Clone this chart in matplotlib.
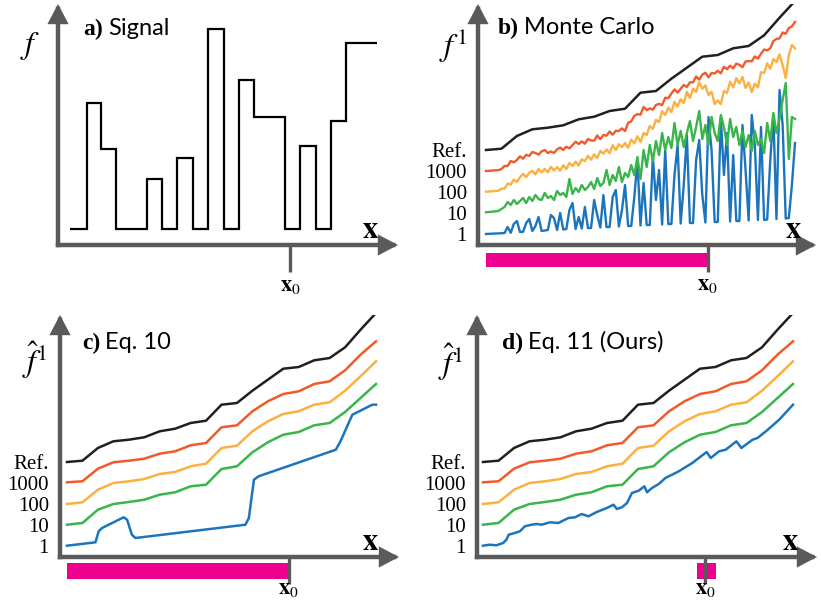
import numpy as np
import matplotlib
matplotlib.use('Agg')
import matplotlib.pyplot as plt
from matplotlib.patches import Rectangle

plt.rcParams['mathtext.fontset'] = 'stix'

# ---------------- data ----------------
# a) step signal
sig_edges = [0, 1.1, 2, 3, 5, 6, 7, 8, 9, 10, 11, 12, 14, 15, 16, 17, 18, 20]
sig_levels = [16, 142, 96, 16, 66, 16, 87, 16, 216, 16, 165, 128, 16, 99, 16, 124, 202]

# reference antiderivative (same in b, c, d)
ref_x = list(range(21))
ref_v = [95, 96.3, 109, 115.7, 117.3, 119.7, 125.7, 128.3, 134, 136.3, 152.3,
         154, 166.3, 177.3, 188.3, 190, 196.7, 199, 209.7, 227.3, 244]

# b) Monte Carlo estimates, sampled every 0.2 along x
mc_x = np.linspace(0, 20, 101)
mc_1000 = [74, 74.2, 74.4, 74.7, 74.9, 76, 79, 79, 84, 82.6, 85, 88.7, 86.3, 90.2, 89.1,
           93, 92, 90.4, 93.6, 95, 92, 93.5, 92, 95.7, 97.4, 95, 98.3, 96.6, 100, 103.2,
           101, 103.7, 101.3, 106, 104.5, 104.3, 109.5, 105.8, 110, 109.3, 113.5, 110.3,
           114.1, 114, 116.6, 114, 122.2, 123.6, 129.2, 130.8, 130.4, 138, 134.8, 136.6,
           135.3, 140, 141.2, 139.8, 147.3, 146.9, 151.4, 155.6, 152.4, 156.2, 160, 158,
           162.7, 162.6, 168.5, 165.4, 170.3, 172.3, 167.7, 172, 171.5, 174.2, 171.7,
           178.2, 175.8, 179.3, 176.7, 181.3, 180.2, 177.8, 183.5, 183.9, 183.7, 188.6,
           186.4, 191.3, 195.5, 194.6, 196.7, 203.9, 206, 206.7, 212.5, 211.2, 216.9,
           218.6, 223]
mc_100 = [53.3, 53.5, 53.7, 54.0, 54.2, 56.3, 56.4, 61.5, 60.5, 65.5, 63.1, 67.7, 71.2,
          67.8, 72.3, 74.1, 70.6, 76.1, 72.6, 76.1, 72.6, 78.1, 74.5, 77.9, 74.3, 79.7,
          75.9, 82, 79.1, 83.3, 79.5, 85.7, 83.9, 89.2, 85.4, 90.6, 86.9, 94.1, 91.3, 95.6,
          91.8, 99.9, 94.9, 100.9, 97.9, 102, 97.2, 105.4, 101.6, 108.8, 103, 112, 110,
          119, 116.2, 125.1, 123, 133.7, 130.1, 137.4, 132.8, 143.2, 138.5, 145.8, 142,
          153.1, 147.1, 156.4, 153.1, 162.8, 156.3, 159.6, 149.9, 153.3, 141, 144.7, 141,
          154, 152, 163.2, 157.5, 166.8, 161.6, 168, 157.1, 162.6, 153, 161.3, 157.6,
          172.8, 172, 181.7, 176.3, 186, 182.9, 190.7, 179.6, 167, 190, 200, 196.7]
mc_10 = [32.7, 33, 33.3, 33.7, 34, 36, 38, 43, 40, 45, 41, 44, 47, 42, 48, 44, 50, 46, 45,
         52, 47, 49, 45, 54, 50, 52, 48, 66, 51, 57, 53, 60, 55, 58, 63, 56, 67, 59, 62,
         75, 60, 70, 64, 78, 63, 72, 68, 80, 70, 88, 66, 95, 78, 100, 84, 104, 90, 112, 95,
         108, 97, 122, 100, 114, 98, 112, 124, 104, 118, 134, 106, 120, 100, 128, 112, 104,
         130, 118, 100, 126, 108, 118, 100, 114, 98, 110, 94, 114, 100, 106, 92, 122, 104,
         132, 112, 126, 145, 162, 86, 128, 126]
mc_1 = [11, 11.2, 11.3, 11.5, 11.6, 11.8, 12, 18, 12.2, 21, 24, 13, 13.2, 22, 26, 14, 19,
        28, 14, 14.5, 15, 30, 27, 15, 32, 15.5, 16, 35, 42, 16, 28, 16.5, 38, 17, 17, 45,
        30, 17.5, 50, 18, 18, 48, 55, 18.5, 35, 60, 19, 19, 48, 85, 19.5, 62, 20, 20, 88,
        45, 75, 20.5, 95, 21, 21, 70, 100, 21.5, 60, 110, 22, 22, 85, 105, 50, 22.5, 128,
        95, 23, 23, 127, 70, 112, 23.5, 90, 24, 24, 120, 75, 24.5, 130, 100, 25, 118, 25,
        25.5, 85, 130, 26, 155, 120, 26.5, 27, 60, 102]

# c) / d) smooth estimates (identical for 1000, 100, 10 samples)
est_x = list(range(21))
est_1000 = [74.7, 75.7, 88.3, 94.7, 96.3, 98.3, 103.3, 105.7, 111.7, 114, 129.7, 131.7,
            145.7, 155.7, 163, 165.7, 173, 175.7, 186.7, 202.3, 215.7]
est_100 = [53, 54.7, 67.3, 74, 75.7, 78, 83, 85, 90.7, 93.3, 109, 111.3, 125.7, 135.7,
           143, 145.7, 152.3, 154.7, 166.3, 180.7, 195.7]
est_10 = [32.3, 34, 47.3, 53, 55, 57.3, 62.3, 64.7, 70.7, 72.3, 88, 90.7, 104.7, 114.7,
          122.3, 125, 131.7, 134, 145, 159, 173]
# c) 1 sample
eq10_1_x = [0, 1.84, 2.05, 2.27, 3.67, 3.89, 4.2, 4.43, 11.55, 11.77, 12.1, 12.4, 17.4,
            17.7, 18.47, 19.76, 20]
eq10_1_v = [11.3, 14.7, 25.7, 29, 39.7, 37.3, 22.3, 19, 32.3, 39, 77.3, 80.7, 107.3,
            115.7, 142.3, 152.3, 152.3]
# d) 1 sample
eq11_1_x = [0, 0.43, 0.86, 1.3, 1.51, 1.66, 2.05, 2.38, 2.7, 3.13, 3.46, 3.78, 4.32, 4.86,
            5.51, 5.94, 6.37, 6.8, 7.34, 7.99, 8.42, 8.64, 8.96, 9.29, 9.61, 10.04, 10.41,
            10.58, 10.9, 11.34, 11.77, 12.63, 13.5, 14.43, 14.69, 15.23, 15.66, 16.35,
            16.67, 17.39, 17.71, 18.25, 19.11, 20]
eq11_1_v = [11.3, 12.3, 11.7, 14, 17.3, 22.3, 24, 25.7, 30.7, 32.3, 33, 32.3, 34.7, 34,
            39, 39.7, 43, 40.7, 45, 49, 52.3, 48, 49.7, 54, 64, 66.3, 70.7, 64.7, 69, 73,
            79, 85.7, 94, 105, 99, 105.7, 107.3, 115.7, 109, 117.3, 119, 125.7, 137.3, 152.3]

tick_pos = [11, 32, 53, 74, 95]
tick_labels = ['1', '10', '100', '1000', 'Ref.']
x0 = 14.35

# ---------------- style ----------------
W, H = 821, 605
GRAY = '#5a5a5a'
C_REF = '#231f20'
C_1000 = '#f15a29'
C_100 = '#fbb040'
C_10 = '#39b54a'
C_1 = '#1c75bc'
MAGENTA = '#ec008c'
SERIF = 'Liberation Serif'
SANS = 'Lato'

fig = plt.figure(figsize=(W / 100, H / 100), dpi=100)

# panel pixel layout: axis origin, arrow tips, x-mapping
panels = {
    'a': dict(ox=58, oy=245, tx=398, ty=4, u0=70, ppu=15.35),
    'b': dict(ox=478, oy=245, tx=816, ty=4, u0=486, ppu=15.45),
    'c': dict(ox=60, oy=557, tx=399, ty=315, u0=67, ppu=15.45),
    'd': dict(ox=477, oy=557, tx=817, ty=315, u0=483, ppu=15.5),
}


def px(p, x, y):
    return (x - p['u0']) / p['ppu'], p['oy'] - y


def make_axes(p):
    ax = fig.add_axes([p['ox'] / W, (H - p['oy']) / H,
                       (p['tx'] - p['ox']) / W, (p['oy'] - p['ty']) / H])
    ax.set_xlim((p['ox'] - p['u0']) / p['ppu'], (p['tx'] - p['u0']) / p['ppu'])
    ax.set_ylim(0, p['oy'] - p['ty'])
    for s in ax.spines.values():
        s.set_visible(False)
    ax.set_xticks([])
    ax.set_yticks([])
    ax.patch.set_visible(False)
    ap = dict(arrowstyle='-|>,head_length=0.95,head_width=0.5', mutation_scale=10,
              lw=3.2, color=GRAY, shrinkA=0, shrinkB=0, joinstyle='miter',
              capstyle='projecting')
    ax.annotate('', xy=(1, 0), xytext=(0, 0), xycoords='axes fraction',
                arrowprops=ap, annotation_clip=False)
    ax.annotate('', xy=(0, 1), xytext=(0, 0), xycoords='axes fraction',
                arrowprops=ap, annotation_clip=False)
    return ax


def title(ax, p, x_px, y_px, tag, name):
    x, y = px(p, x_px, y_px)
    t = ax.text(x, y, tag, fontfamily=SERIF, fontweight='bold', fontsize=17,
                va='baseline', ha='left')
    fig.canvas.draw()
    bb = t.get_window_extent()
    xd = ax.transData.inverted().transform((bb.x1 + 5, 0))[0]
    ax.text(xd, y, name, fontfamily=SANS, fontsize=17, va='baseline', ha='left')


def decorate(ax, p, ylab, ylab_px, xlab_px, x0lab_y, ticks=True):
    ax.text(*px(p, *ylab_px), ylab, ha='center', va='center', fontsize=23)
    ax.text(*px(p, *xlab_px), r'$\mathbf{x}$', ha='center', va='center', fontsize=22)
    ax.plot([x0, x0], [0, -27], color=GRAY, lw=2.4, clip_on=False,
            solid_capstyle='butt')
    ax.text(x0, p['oy'] - x0lab_y, r'$\mathbf{x}_0$', ha='center', va='center',
            fontsize=16, clip_on=False)
    if ticks:
        ax.set_yticks(tick_pos)
        ax.set_yticklabels(tick_labels, fontfamily=SERIF, fontsize=15)
        ax.tick_params(axis='y', length=0, pad=8)


# ---- a) Signal
pa = panels['a']
axa = make_axes(pa)
sp = axa.stairs(sig_levels, sig_edges, baseline=None, color='black', lw=1.6)
sp.set_joinstyle('miter')
decorate(axa, pa, r'$f$', (30, 46), (370, 230), 286, ticks=False)
title(axa, pa, 83, 35, 'a)', 'Signal')

# ---- b) Monte Carlo
pb = panels['b']
axb = make_axes(pb)
axb.plot(mc_x, mc_1, color=C_1, lw=1.7)
axb.plot(mc_x, mc_10, color=C_10, lw=1.7)
axb.plot(mc_x, mc_100, color=C_100, lw=1.7)
axb.plot(mc_x, mc_1000, color=C_1000, lw=1.7)
axb.plot(ref_x, ref_v, color=C_REF, lw=1.8)
axb.add_patch(Rectangle((0, -22), x0, 14, color=MAGENTA, clip_on=False, lw=0))
decorate(axb, pb, r'$f^1$', (453, 46), (793, 229), 285)
title(axb, pb, 498, 34, 'b)', 'Monte Carlo')

# ---- c) Eq. 10
pc = panels['c']
axc = make_axes(pc)
axc.plot(eq10_1_x, eq10_1_v, color=C_1, lw=1.8)
axc.plot(est_x, est_10, color=C_10, lw=1.8)
axc.plot(est_x, est_100, color=C_100, lw=1.8)
axc.plot(est_x, est_1000, color=C_1000, lw=1.8)
axc.plot(ref_x, ref_v, color=C_REF, lw=1.8)
axc.add_patch(Rectangle((0, -22), x0 - 0.05, 16, color=MAGENTA, clip_on=False, lw=0))
decorate(axc, pc, r'$\hat{f}^1$', (34, 360), (370, 542), 589)
title(axc, pc, 82, 349, 'c)', 'Eq. 10')

# ---- d) Eq. 11 (Ours)
pd_ = panels['d']
axd = make_axes(pd_)
axd.plot(eq11_1_x, eq11_1_v, color=C_1, lw=1.8)
axd.plot(est_x, est_10, color=C_10, lw=1.8)
axd.plot(est_x, est_100, color=C_100, lw=1.8)
axd.plot(est_x, est_1000, color=C_1000, lw=1.8)
axd.plot(ref_x, ref_v, color=C_REF, lw=1.8)
axd.add_patch(Rectangle((13.8, -22), 1.23, 16, color=MAGENTA, clip_on=False, lw=0))
decorate(axd, pd_, r'$\hat{f}^1$', (450, 362), (790, 542), 589)
title(axd, pd_, 502, 349, 'd)', 'Eq. 11 (Ours)')

fig.savefig('out.png', dpi=100)
